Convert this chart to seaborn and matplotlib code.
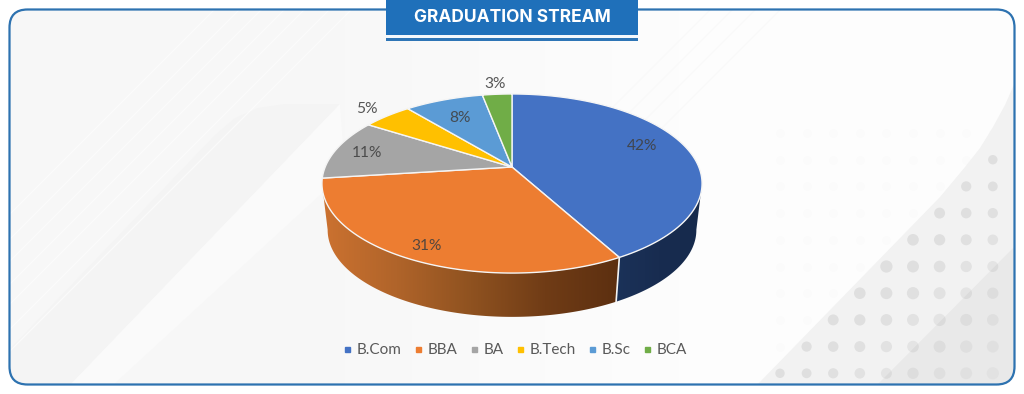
import matplotlib
matplotlib.use("Agg")
import matplotlib.pyplot as plt
import numpy as np
import seaborn as sns
from matplotlib.patches import FancyBboxPatch, Polygon, Rectangle
from matplotlib.lines import Line2D

# shares, clockwise from 12 o'clock
streams = ["B.Com", "BBA", "BA", "B.Tech", "B.Sc", "BCA"]
shares = [42, 31, 11, 5, 8, 3]
colours = ["#4472c4", "#ed7d31", "#a5a5a5", "#ffc000", "#5b9bd5", "#70ad47"]
# where each percentage sits: fraction of radius, and slide along the rim
label_radius = [0.784, 0.866, 0.823, 1.19, 0.727, 1.205]
label_slide = [-0.018, 0, 0, 0, 0, 0]

# pie geometry in image pixels (perspective tilt of the office 3D pie)
CX, CY = 512, 167
A, B, K = 186.8, 86.5, 0.1844
DEPTH_SCALE, DEPTH_DY = 0.97, 47
WALL_FROM, WALL_TO = 0.279, 0.721  # rim points where the silhouette is widest


def rim(frac, r=1.0):
    t = 2 * np.pi * np.asarray(frac)
    u, v = r * np.sin(t), r * np.cos(t)
    den = 1 + K * v
    return CX + A * u / den, CY - B * v / den


def wall_pts(x, y):
    return CX + (x - CX) * DEPTH_SCALE, CY + (y - CY) * DEPTH_SCALE + DEPTH_DY


def gradient(ax, colours_list, extent, clip, zorder):
    pal = np.array(sns.blend_palette(colours_list, 256))[:, :3]
    im = ax.imshow(pal[None, :, :], extent=extent, aspect="auto", zorder=zorder, interpolation="bilinear")
    im.set_clip_path(clip)
    return im


def background(ax, frame):
    gradient(ax, ["#f7f7f7", "#f8f8f8", "#fdfdfd", "#fefefe"], (9, 1015, 385, 9), frame, 0)

    # big rounded band on the left
    band = [(9, 350), (215, 135), (235, 118), (258, 108), (285, 104), (315, 104), (340, 104),
            (70, 385), (9, 385)]
    ax.add_patch(Polygon(band, fc="#f4f4f4", ec="none", zorder=0.2)).set_clip_path(frame)
    light = [(340, 104), (345, 172), (113, 385), (70, 385)]
    ax.add_patch(Polygon(light, fc="#fafafa", ec="none", zorder=0.2)).set_clip_path(frame)

    # thin diagonal streaks
    for c in [215, 240, 262, 285, 305, 330, 352]:
        line, = ax.plot([9, c + 11], [c, -2], color="white", lw=0.9, alpha=0.6, zorder=0.3)
        line.set_clip_path(frame)
    for c in [720, 742, 765, 790]:
        ax.plot([c - 9, c - 130], [9, 130], color="#f9f9f9", lw=0.9, zorder=0.3)

    # corner band on the right and its dots
    corner = [(757, 385), (940, 197), (965, 167), (980, 148), (993, 127), (1005, 105), (1016, 80), (1016, 385)]
    ax.add_patch(Polygon(corner, fc="#f2f2f2", ec="none", zorder=0.4)).set_clip_path(frame)
    cols, rows = np.meshgrid(np.arange(9), np.arange(10))
    gx, gy = 780 + 26.6 * cols, 133 + 26.7 * rows
    on_band = cols + rows >= 9
    size = 42 + 36 * (1 - np.abs(cols - rows + 1) / 9.0)
    fade = 1 - (cols + rows - 9) / 11.0
    ax.scatter(gx[on_band], gy[on_band], s=size[on_band], c="#dcdcdc", alpha=np.clip(fade[on_band], 0.3, 0.85),
               lw=0, zorder=0.5)
    ax.scatter(gx[~on_band], gy[~on_band], s=38, c="#fbfbfb", lw=0, zorder=0.35)
    corner2 = [(877, 385), (1016, 245), (1016, 385)]
    ax.add_patch(Polygon(corner2, fc="black", alpha=0.035, ec="none", zorder=0.6)).set_clip_path(frame)


def draw_pie(ax):
    edges = np.concatenate([[0], np.cumsum(shares)]) / sum(shares)
    # side wall, only the part facing the viewer
    wall_cols = [["#1b3259", "#182c50", "#162a4c"],
                 ["#cc7230", "#b0642a", "#8f5220", "#703c16", "#5c2f10"]]
    for i in (0, 1):
        fr = np.linspace(max(edges[i], WALL_FROM), min(edges[i + 1], WALL_TO), 160)
        xs, ys = rim(fr)
        bx, by = wall_pts(xs, ys)
        pts = np.column_stack([np.r_[xs, bx[::-1]], np.r_[ys, by[::-1]]])
        wall = Polygon(pts, fc="none", ec="none", zorder=3)
        ax.add_patch(wall)
        lo, hi = min(xs.min(), bx.min()), max(xs.max(), bx.max())
        gradient(ax, wall_cols[i], (lo, hi, 330, 160), wall, 3)
    # white seam where the two walls meet
    sx, sy = rim(edges[1])
    ex, ey = wall_pts(sx, sy)
    ax.plot([sx, ex], [sy, ey], color="#f4f4f4", lw=1.2, zorder=4)
    # top faces
    for i, c in enumerate(colours):
        fr = np.linspace(edges[i], edges[i + 1], 120)
        xs, ys = rim(fr)
        pts = np.column_stack([np.r_[CX, xs], np.r_[CY, ys]])
        ax.add_patch(Polygon(pts, closed=True, fc=c, ec="#f5f5f5", lw=1.0, joinstyle="round", zorder=5))
    # percentage labels
    for i, s in enumerate(shares):
        mid = (edges[i] + edges[i + 1]) / 2 + label_slide[i]
        lx, ly = rim(mid, label_radius[i])
        ax.text(lx, ly + 1.5, f"{s}%", ha="center", va="center", fontsize=11.2, color="#404040", alpha=0.88, zorder=6)


def main():
    sns.set_theme(style="white")
    plt.rcParams["font.family"] = ["Lato", "DejaVu Sans"]
    fig = plt.figure(figsize=(10.24, 3.94), dpi=100)
    ax = fig.add_axes([0, 0, 1, 1])
    ax.axis("off")

    frame = FancyBboxPatch((9.5, 9.5), 1005, 375, boxstyle="round,pad=0,rounding_size=18",
                           fc="none", ec="none", zorder=0)
    ax.add_patch(frame)
    background(ax, frame)
    ax.add_patch(FancyBboxPatch((9.5, 9.5), 1005, 375, boxstyle="round,pad=0,rounding_size=18",
                                fc="none", ec="#2d72b0", lw=1.6, zorder=2))

    draw_pie(ax)

    # title tab
    ax.add_patch(Rectangle((386, 0), 252, 35, fc="#1f70ba", ec="none", zorder=7))
    ax.add_patch(Rectangle((386, 35), 252, 3, fc="#f4f8fc", ec="none", zorder=7))
    ax.add_patch(Rectangle((386, 38), 252, 3, fc="#2e75b6", ec="none", zorder=7))
    ax.text(512, 17.5, "GRADUATION STREAM", ha="center", va="center", color="white",
            fontsize=12.5, fontweight="bold", family="Inter", zorder=8)

    ax.set_xlim(0, 1024)
    ax.set_ylim(394, 0)

    handles = [Line2D([], [], ls="", marker="s", ms=3.6, color=c, label=n) for n, c in zip(streams, colours)]
    ax.legend(handles=handles, loc="center", bbox_to_anchor=(515 / 1024, 1 - 350.5 / 394), ncol=6,
              frameon=False, fontsize=11, labelcolor="#595959", handlelength=0.6, handletextpad=0.35,
              columnspacing=0.75, borderpad=0)

    fig.savefig("out.png", dpi=100)


if __name__ == "__main__":
    main()
